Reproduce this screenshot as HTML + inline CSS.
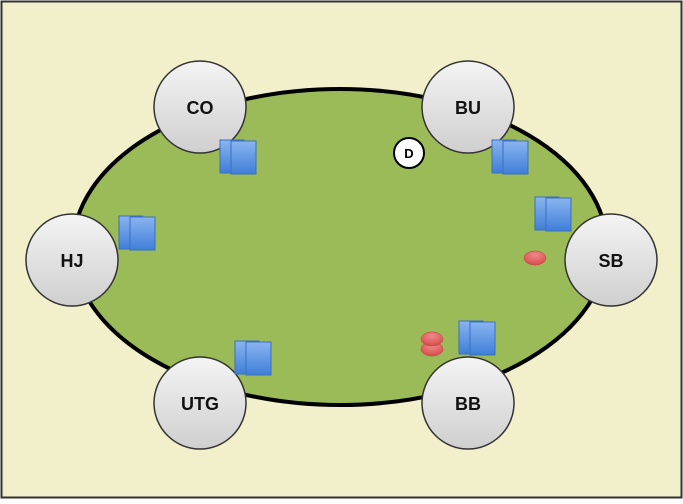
<!DOCTYPE html>
<html><head><style>
body{margin:0;width:683px;height:499px;overflow:hidden;background:#fff}
</style></head><body>
<svg width="683" height="499" xmlns="http://www.w3.org/2000/svg" font-family="Liberation Sans, sans-serif">
<defs>
<linearGradient id="g" x1="0" y1="0" x2="0" y2="1"><stop offset="0" stop-color="#f4f4f4"/><stop offset="1" stop-color="#cfcfcf"/></linearGradient>
<linearGradient id="c" x1="0" y1="0" x2="0" y2="1"><stop offset="0" stop-color="#8ab4f0"/><stop offset="1" stop-color="#3f7fd8"/></linearGradient>
<radialGradient id="r" cx="0.5" cy="0.3" r="0.7"><stop offset="0" stop-color="#f08a8a"/><stop offset="1" stop-color="#d84a4a"/></radialGradient>
<g id="cards"><rect x="0" y="0" width="24" height="33" fill="url(#c)" stroke="#3a6fc0" stroke-width="1"/><rect x="11" y="1" width="25" height="33" fill="url(#c)" stroke="#3a6fc0" stroke-width="1"/></g>
</defs>
<rect x="1.5" y="1.5" width="680" height="496" fill="#f2efcb" stroke="#333" stroke-width="2"/>
<ellipse cx="340" cy="247" rx="267" ry="158" fill="#9bbb59" stroke="#000" stroke-width="4"/>
<g stroke="#333" stroke-width="1.5" fill="url(#g)">
<circle cx="200" cy="107" r="46"/><circle cx="468" cy="107" r="46"/>
<circle cx="72" cy="260" r="46"/><circle cx="611" cy="260" r="46"/>
<circle cx="200" cy="403" r="46"/><circle cx="468" cy="403" r="46"/>
</g>
<g font-size="18" font-weight="bold" text-anchor="middle" fill="#111">
<text x="200" y="114">CO</text><text x="468" y="114">BU</text>
<text x="72" y="267">HJ</text><text x="611" y="267">SB</text>
<text x="200" y="410">UTG</text><text x="468" y="410">BB</text>
</g>
<circle cx="409" cy="153" r="15" fill="#fff" stroke="#000" stroke-width="2"/>
<text x="409" y="158" font-size="13" font-weight="bold" text-anchor="middle">D</text>
<use href="#cards" x="220" y="140"/>
<use href="#cards" x="492" y="140"/>
<use href="#cards" x="535" y="197"/>
<use href="#cards" x="119" y="216"/>
<use href="#cards" x="235" y="341"/>
<use href="#cards" x="459" y="321"/>
<ellipse cx="535" cy="258" rx="11" ry="7" fill="url(#r)" stroke="#c04040" stroke-width="0.5"/>
<ellipse cx="432" cy="349" rx="11" ry="7" fill="url(#r)" stroke="#c04040" stroke-width="0.5"/>
<ellipse cx="432" cy="339" rx="11" ry="7" fill="url(#r)" stroke="#c04040" stroke-width="0.5"/>
</svg>
</body></html>
